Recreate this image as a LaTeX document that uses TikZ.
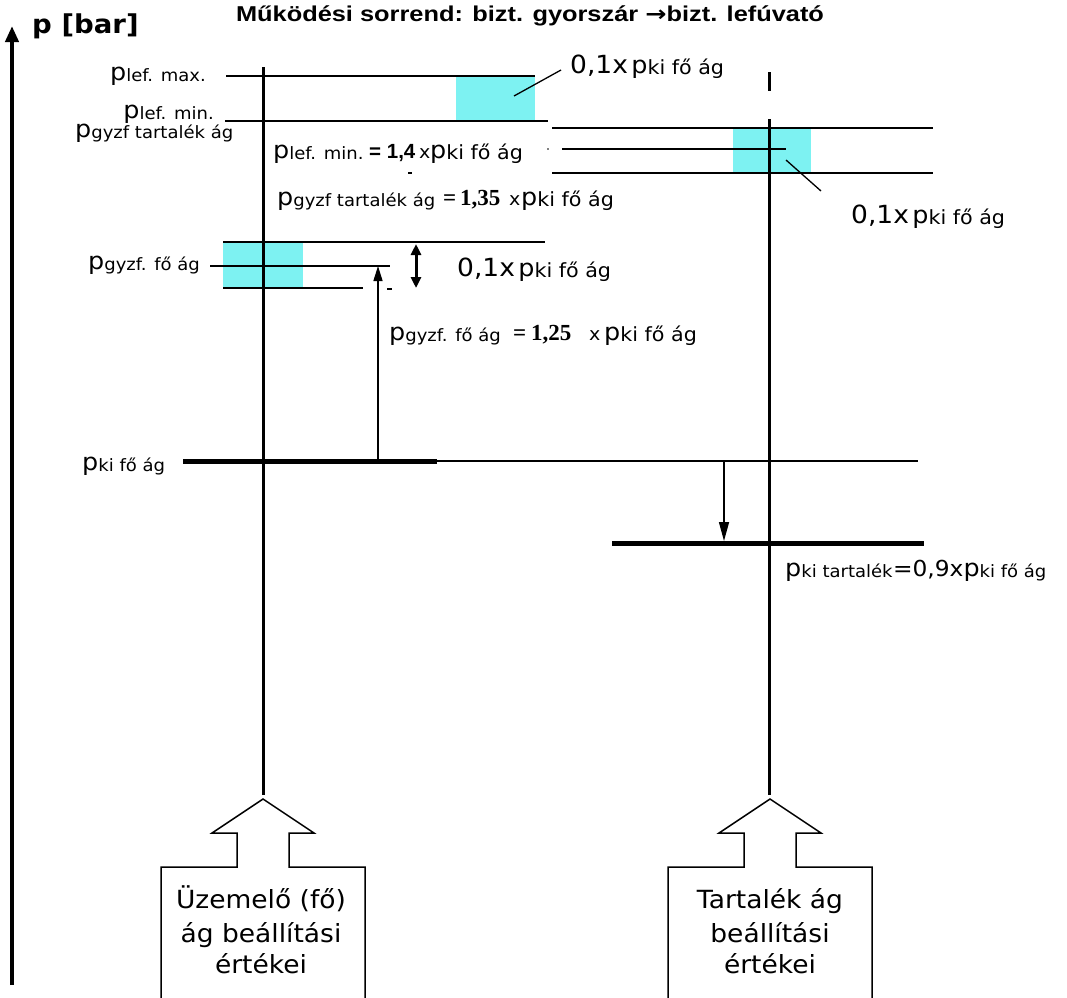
\documentclass[tikz,border=0pt]{standalone}
\usepackage{fontspec}
\setmainfont{DejaVu Sans}[FakeStretch=1.06]
\newfontfamily\titlefont{Liberation Sans}[FakeStretch=1.18]
\newfontfamily\arialf{Liberation Sans}
\newfontfamily\arrowfont{DejaVu Sans}[FakeStretch=1.18]
\newfontfamily\serifb{Liberation Serif}
\usetikzlibrary{arrows.meta}
\definecolor{aqua}{RGB}{125,242,242}
\newcommand\BP{{\fontsize{24}{24}\selectfont p}}
\newcommand\SB[1]{\raisebox{-1.5pt}{\fontsize{17}{17}\selectfont #1}}
\newcommand\SBL[1]{\raisebox{-1.5pt}{\fontsize{19.5}{19.5}\selectfont #1}}
\newcommand\PS[1]{\BP\SB{#1}}
\newcommand\PL[1]{\BP\SBL{#1}}
\newcommand\NUM[1]{{\fontsize{25}{25}\selectfont #1}}
\begin{document}
\begin{tikzpicture}[x=1pt,y=-1pt,
  hline/.style={line width=1.5pt},
  vline/.style={line width=3pt},
  heavy/.style={line width=5pt},
  leader/.style={line width=1.3pt},
  lbl/.style={inner sep=0pt,anchor=base west},
  lblr/.style={inner sep=0pt,anchor=base east},
  eqsans/.style={lbl,font=\arialf\bfseries\fontsize{20.5}{20.5}\selectfont},
  eqserif/.style={lbl,font=\serifb\bfseries\fontsize{23}{23}\selectfont},
  times/.style={lbl,font=\fontsize{18}{18}\selectfont},
  boxtxt/.style={inner sep=0pt,anchor=base,font=\fontsize{25}{25}\selectfont},
  blockarrow/.style={line width=1.5pt}]
\useasboundingbox (0,0) rectangle (1067,997);
\clip (0,0) rectangle (1067,997);
% title and axis
\node[inner sep=0pt,anchor=base] (title) at (530,21)
  {\titlefont\bfseries\fontsize{21.5}{21.5}\selectfont Működési sorrend: bizt. gyorszár {\arrowfont\bfseries →}bizt. lefúvató};
\coordinate (axb) at (12,985);
\coordinate (axt) at (12,26);
\draw[line width=4.5pt,-{Triangle[width=13pt,length=16pt]}] (axb) -- (axt);
\node[lbl] (pbar) at (32,33) {\bfseries\fontsize{26}{26}\selectfont p [bar]};
% cyan bands
\fill[aqua] (456,76) rectangle (535,121);
\fill[aqua] (733,128) rectangle (811,173);
\fill[aqua] (223,242) rectangle (303,288);
% vertical lines
\coordinate (lt) at (263,67); \coordinate (lb) at (263,795);
\coordinate (rt) at (769,119); \coordinate (rb) at (769,795);
\coordinate (st) at (769,72); \coordinate (sb) at (769,91);
\draw[vline] (lt) -- (lb);
\draw[vline] (rt) -- (rb);
\draw[vline] (st) -- (sb);
% horizontal levels
\draw[hline] (226,76) -- (535,76);
\draw[hline] (225,121) -- (548,121);
\draw[hline] (552,128) -- (933,128);
\draw[hline] (562,149) -- (786,149);
\draw[hline] (552,173) -- (933,173);
\draw[hline] (223,242) -- (545,242);
\draw[hline] (210,266) -- (390,266);
\draw[hline] (223,288) -- (363,288);
\draw[heavy] (183,461) -- (437,461);
\draw[hline] (437,461) -- (918,461);
\draw[heavy] (612,543) -- (924,543);
% small marks
\draw[line width=1.2pt] (408,173) -- (412,173);
\draw[line width=1.2pt] (387,289) -- (392,289);
\fill (548,149) circle (0.9pt);
% leaders
\draw[leader] (514,96) -- (561,70);
\draw[leader] (786,160) -- (821,191);
% arrows
\coordinate (upA) at (378,461); \coordinate (upB) at (378,266);
\draw[line width=1.5pt,-{Triangle[width=9pt,length=15pt]}] (upA) -- (upB);
\coordinate (dnA) at (724,461); \coordinate (dnB) at (724,541);
\draw[line width=1.5pt,-{Triangle[width=10pt,length=19pt]}] (dnA) -- (dnB);
\coordinate (dbA) at (416,244); \coordinate (dbB) at (416,288);
\draw[line width=3pt,{Triangle[width=10pt,length=11pt]}-{Triangle[width=10pt,length=11pt]}] (dbA) -- (dbB);
% labels left
\node[lblr] (lmax) at (206,80) {\PS{lef. max.}};
\node[lblr] (lmin) at (214,118) {\PS{lef. min.}};
\node[lbl] (ltart) at (75,137) {\PS{gyzf tartalék ág}};
\node[lbl] (lfo) at (88,269) {\PS{gyzf. fő ág}};
\node[lbl] (lki) at (82,470) {\PS{ki fő ág}};
% formula 1
\node[lbl] (e1a) at (273,158) {\PS{lef. min.}};
\node[eqsans] (e1b) at (369,158) {= 1,4};
\node[times] (e1c) at (419,158) {x};
\node[lbl] (e1d) at (430,158) {\PL{ki fő ág}};
% formula 2
\node[lbl] (e2a) at (277,205) {\PS{gyzf tartalék ág}};
\node[eqserif] (e2b) at (443,205) {=};
\node[eqserif] (e2n) at (460,205) {1,35};
\node[times] (e2c) at (509,205) {x};
\node[lbl] (e2d) at (521,205) {\PL{ki fő ág}};
% formula 3
\node[lbl] (e3a) at (389,340) {\PS{gyzf. fő ág}};
\node[eqserif] (e3b) at (513,340) {=};
\node[eqserif] (e3n) at (531,340) {1,25};
\node[times] (e3c) at (589,340) {x};
\node[lbl] (e3d) at (604,340) {\PL{ki fő ág}};
% 0,1x labels
\node[lbl] (d1) at (570,73) {\NUM{0,1x} \PL{ki fő ág}};
\node[lbl] (d2) at (851,223) {\NUM{0,1x} \PL{ki fő ág}};
\node[lbl] (d3) at (457,276) {\NUM{0,1x} \PL{ki fő ág}};
% formula 4
\node[lbl] (e4a) at (785,576) {\PS{ki tartalék}};
\node[lbl] (e4b) at (e4a.base east) {{\fontsize{22}{22}\selectfont =0,9x}\PS{ki fő ág}};
% block arrows
\foreach \cx in {263,770}{
  \draw[blockarrow] (\cx-102,1000) -- (\cx-102,867) -- (\cx-26,867) -- (\cx-26,833) -- (\cx-51,833)
     -- (\cx,799) -- (\cx+51,833) -- (\cx+26,833) -- (\cx+26,867) -- (\cx+102,867) -- (\cx+102,1000);
}
\node[boxtxt] (u1) at (261,908) {Üzemelő (fő)};
\node[boxtxt] (u2) at (261,942) {ág beállítási};
\node[boxtxt] (u3) at (261,973) {értékei};
\node[boxtxt] (t1) at (770,908) {Tartalék ág};
\node[boxtxt] (t2) at (770,942) {beállítási};
\node[boxtxt] (t3) at (770,973) {értékei};
\end{tikzpicture}
\end{document}
